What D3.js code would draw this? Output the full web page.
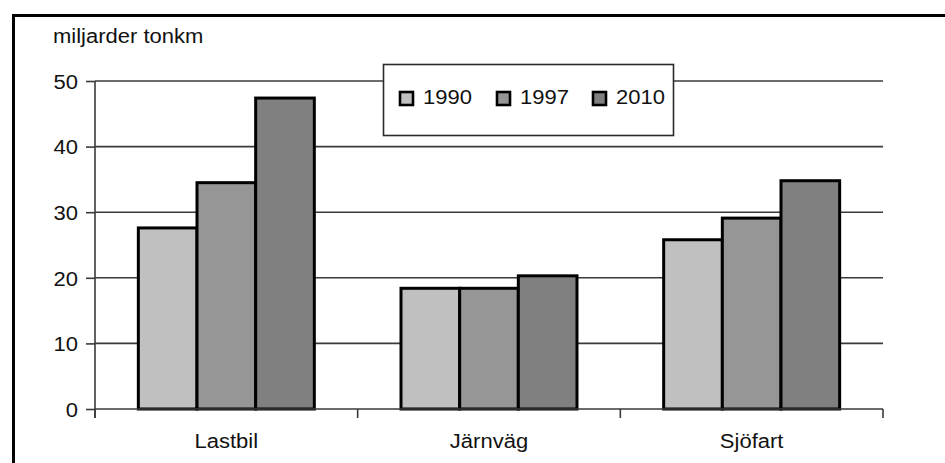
<!DOCTYPE html>
<html>
<head>
<meta charset="utf-8">
<script src="https://cdn.jsdelivr.net/npm/d3@7"></script>
<style>
  html, body { margin: 0; padding: 0; background: #fff; }
  svg { display: block; }
  text { font-family: "Liberation Sans", Arial, sans-serif; fill: #111; }
</style>
</head>
<body>
<svg id="chart" width="945" height="463"></svg>
<script>
// Godstransporter per trafikslag, miljarder tonkm
const categories = ["Lastbil", "Järnväg", "Sjöfart"];
const years = ["1990", "1997", "2010"];
const values1990 = [27.6, 18.4, 25.8];
const values1997 = [34.5, 18.4, 29.1];
const values2010 = [47.4, 20.3, 34.8];
const yTicks = [0, 10, 20, 30, 40, 50];
const unitLabel = "miljarder tonkm";

const seriesValues = [values1990, values1997, values2010];
const fills = ["#c0c0c0", "#969696", "#808080"];

const svg = d3.select("#chart");
const W = 945, H = 463;
const plot = { left: 95, right: 883, top: 81, bottom: 409 };
const STRETCH = 1.1;

// slightly wide lettering
function widen(sel) {
  sel.each(function () {
    const w = this.getComputedTextLength();
    d3.select(this).attr("textLength", w * STRETCH).attr("lengthAdjust", "spacingAndGlyphs");
  });
}

// outer frame
svg.append("rect")
  .attr("x", 13.5).attr("y", 15.5)
  .attr("width", W + 20).attr("height", H + 20)
  .attr("fill", "#fff").attr("stroke", "#000").attr("stroke-width", 3);

const y = d3.scaleLinear().domain([0, 50]).range([plot.bottom, plot.top]);
const x = d3.scaleBand().domain(categories).range([plot.left, plot.right])
  .paddingInner(0.33).paddingOuter(0.165);
const xs = d3.scaleBand().domain(years).range([0, x.bandwidth()]).padding(0);

// horizontal gridlines
svg.append("g").selectAll("line")
  .data(yTicks.filter(d => d > 0))
  .join("line")
  .attr("x1", plot.left).attr("x2", plot.right)
  .attr("y1", d => y(d)).attr("y2", d => y(d))
  .attr("stroke", "#3a3a3a").attr("stroke-width", 1.6);

// y axis
const yAxis = svg.append("g")
  .attr("transform", `translate(${plot.left},0)`)
  .call(d3.axisLeft(y).tickValues(yTicks).tickSize(9).tickPadding(8).tickFormat(d3.format("d")));
yAxis.select(".domain").attr("stroke", "#3a3a3a").attr("stroke-width", 1.6)
  .attr("d", `M0,${plot.top}V${plot.bottom + 9}`);
yAxis.selectAll(".tick line").attr("stroke", "#3a3a3a").attr("stroke-width", 1.6);
yAxis.selectAll(".tick text").attr("font-size", 20).attr("fill", "#111")
  .attr("font-family", "Liberation Sans, Arial, sans-serif").attr("dy", "0.36em").call(widen);

// bars
const groups = svg.append("g").selectAll("g")
  .data(categories)
  .join("g")
  .attr("transform", d => `translate(${x(d)},0)`);
groups.selectAll("rect")
  .data((c, i) => years.map((yr, k) => ({ yr, k, v: seriesValues[k][i] })))
  .join("rect")
  .attr("x", d => xs(d.yr))
  .attr("y", d => y(d.v))
  .attr("width", xs.bandwidth())
  .attr("height", d => y(0) - y(d.v))
  .attr("fill", d => fills[d.k])
  .attr("stroke", "#000").attr("stroke-width", 3);

// x axis with ticks between categories
const xAxis = svg.append("g").attr("transform", `translate(0,${plot.bottom})`);
xAxis.append("line")
  .attr("x1", plot.left).attr("x2", plot.right)
  .attr("stroke", "#3a3a3a").attr("stroke-width", 1.6);
const boundaries = categories.map(c => x(c) - x.step() * x.paddingOuter()).concat([plot.right]);
xAxis.selectAll("line.tick")
  .data(boundaries)
  .join("line").attr("class", "tick")
  .attr("x1", d => d).attr("x2", d => d)
  .attr("y1", 0).attr("y2", 9)
  .attr("stroke", "#3a3a3a").attr("stroke-width", 1.6);
xAxis.selectAll("text")
  .data(categories)
  .join("text")
  .attr("x", d => x(d) + x.bandwidth() / 2)
  .attr("y", 39)
  .attr("text-anchor", "middle")
  .attr("font-size", 20)
  .text(d => d)
  .call(widen);

// unit label
svg.append("text")
  .attr("x", 53).attr("y", 43)
  .attr("font-size", 20)
  .text(unitLabel)
  .call(widen);

// legend
const legend = svg.append("g");
legend.append("rect")
  .attr("x", 383.5).attr("y", 64.5).attr("width", 290).attr("height", 71)
  .attr("fill", "#fff").attr("stroke", "#2a2a2a").attr("stroke-width", 1.6);
const legX = [400, 497, 593];
const item = legend.selectAll("g.item")
  .data(years)
  .join("g").attr("class", "item")
  .attr("transform", (d, i) => `translate(${legX[i]},99)`);
item.append("rect")
  .attr("x", 0).attr("y", -7).attr("width", 13).attr("height", 13)
  .attr("fill", (d, i) => fills[i]).attr("stroke", "#000").attr("stroke-width", 2.6);
item.append("text")
  .attr("x", 23).attr("y", 5)
  .attr("font-size", 20)
  .text(d => d)
  .call(widen);
</script>
</body>
</html>
